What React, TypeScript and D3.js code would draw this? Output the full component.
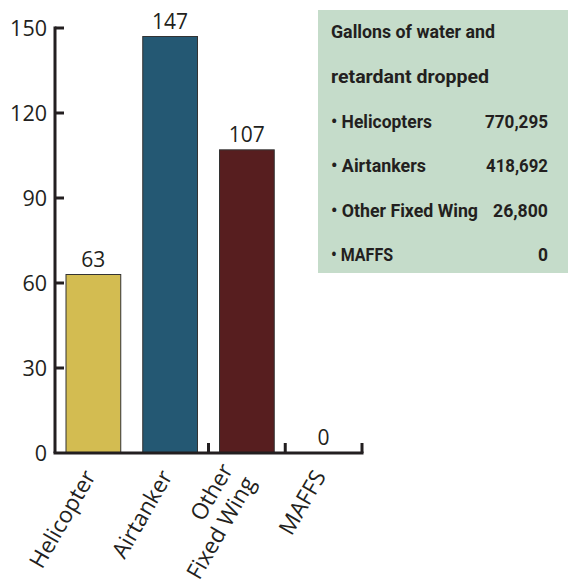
import React from "react";
import * as d3 from "d3";

const categories = ["Helicopter", "Airtanker", "Other\nFixed Wing", "MAFFS"];
const sorties = [63, 147, 107, 0];
const barColors = ["#D3BC51", "#245873", "#571E1F", "#888888"];
const yTicks = [0, 30, 60, 90, 120, 150];
const legendTitle = ["Gallons of water and", "retardant dropped"];
const legendNames = ["Helicopters", "Airtankers", "Other Fixed Wing", "MAFFS"];
const legendValues = ["770,295", "418,692", "26,800", "0"];
// rendered widths of the legend texts (condensed face emulation)
const legendTitleWidths = [164, 158];
const legendNameWidths = [101, 95, 147, 62];
const legendValueWidths = [63, 62, 55, 10];

const W = 568;
const H = 579;
const axisColor = "#231F20";
const fontMain = "'Open Sans', 'Noto Sans', sans-serif";
const fontLegend = "Roboto, 'Open Sans', sans-serif";

export default function App() {
  const x = d3
    .scaleBand<string>()
    .domain(categories)
    .range([55, 362])
    .paddingInner(0)
    .paddingOuter(0);
  const y = d3.scaleLinear().domain([0, 150]).range([453, 28]);
  const barPad = 11;
  const bw = x.bandwidth() - 2 * barPad;

  return (
    <svg
      width={W}
      height={H}
      style={{ position: "absolute", left: 0, top: 0, background: "#fff" }}
    >
      {/* legend box */}
      <rect x={318} y={10} width={250} height={263} fill="#C5DCCA" />
      {legendTitle.map((t, i) => (
        <text
          key={"lt" + i}
          x={331}
          y={38 + i * 44.6}
          fontFamily={fontLegend}
          fontWeight="bold"
          fontSize={18.5}
          fill="#231F20"
          textLength={legendTitleWidths[i]}
          lengthAdjust="spacingAndGlyphs"
        >
          {t}
        </text>
      ))}
      {legendNames.map((n, i) => (
        <g key={"ln" + i}>
          <text
            x={331}
            y={128 + i * 44.4}
            fontFamily={fontLegend}
            fontWeight="bold"
            fontSize={18.5}
            fill="#231F20"
            textLength={legendNameWidths[i]}
            lengthAdjust="spacingAndGlyphs"
          >
            {"\u2022 " + n}
          </text>
          <text
            x={548 - legendValueWidths[i]}
            y={128 + i * 44.4}
            fontFamily={fontLegend}
            fontWeight="bold"
            fontSize={18.5}
            fill="#231F20"
            textLength={legendValueWidths[i]}
            lengthAdjust="spacingAndGlyphs"
          >
            {legendValues[i]}
          </text>
        </g>
      ))}

      {/* bars */}
      {categories.map((c, i) =>
        sorties[i] > 0 ? (
          <rect
            key={"b" + i}
            x={(x(c) as number) + barPad}
            y={y(sorties[i])}
            width={bw}
            height={y(0) - y(sorties[i])}
            fill={barColors[i]}
            stroke="#333"
            strokeWidth={1}
          />
        ) : null
      )}
      {/* value labels */}
      {categories.map((c, i) => (
        <text
          key={"v" + i}
          x={(x(c) as number) + x.bandwidth() / 2}
          y={y(sorties[i]) - 8}
          textAnchor="middle"
          fontFamily={fontMain}
          fontSize={21}
          fill="#231F20"
        >
          {sorties[i]}
        </text>
      ))}

      {/* y axis */}
      <line x1={55} x2={55} y1={y(150) - 1.5} y2={y(0)} stroke={axisColor} strokeWidth={3} />
      {yTicks.map((t) => (
        <g key={"yt" + t}>
          {t > 0 && (
            <line x1={55} x2={64} y1={y(t)} y2={y(t)} stroke={axisColor} strokeWidth={3} />
          )}
          <text
            x={47}
            y={y(t)}
            dy="0.36em"
            textAnchor="end"
            fontFamily={fontMain}
            fontSize={21.5}
            fill="#231F20"
          >
            {t}
          </text>
        </g>
      ))}

      {/* x axis */}
      <line x1={53.5} x2={363.5} y1={y(0)} y2={y(0)} stroke={axisColor} strokeWidth={3} />
      {categories.slice(2).map((c) => (
        <line
          key={"xt" + c}
          x1={x(c) as number}
          x2={x(c) as number}
          y1={y(0)}
          y2={y(0) - 10}
          stroke={axisColor}
          strokeWidth={3}
        />
      ))}
      <line x1={362} x2={362} y1={y(0)} y2={y(0) - 10} stroke={axisColor} strokeWidth={3} />

      {/* x labels */}
      {categories.map((c, i) => {
        const lines = c.split("\n");
        const cx = (x(c) as number) + x.bandwidth() / 2;
        const shift = lines.length > 1 ? -5 : 0;
        return (
          <text
            key={"xl" + i}
            transform={`translate(${cx + 3 + shift},${y(0) + 23}) rotate(-60)`}
            textAnchor="end"
            fontFamily={fontMain}
            fontSize={22.5}
            fill="#231F20"
          >
            {lines.map((l, j) => (
              <tspan
                key={j}
                x={0}
                y={(j - (lines.length - 1) / 2) * 26}
              >
                {l}
              </tspan>
            ))}
          </text>
        );
      })}
    </svg>
  );
}
